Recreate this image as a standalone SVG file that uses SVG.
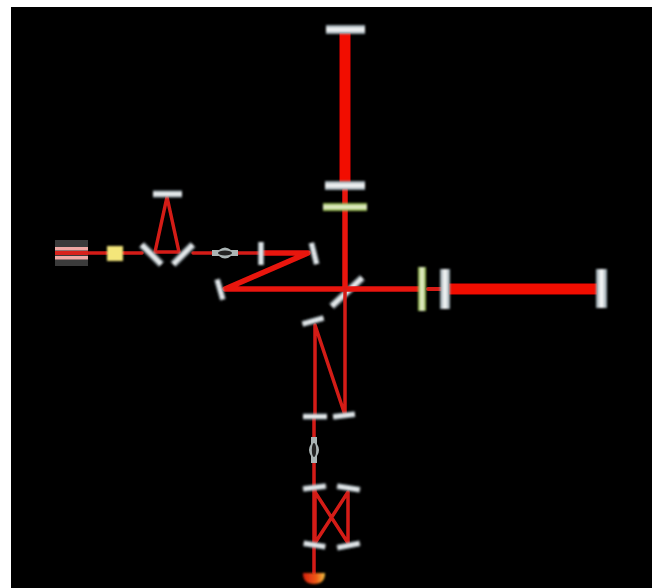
<svg xmlns="http://www.w3.org/2000/svg" width="655" height="588" viewBox="0 0 655 588">
<style>
.m{fill:url(#mg);filter:url(#b)}
.mh{fill:url(#mh);filter:url(#b)}
.g{fill:url(#gg);filter:url(#b)}
.gh{fill:url(#gh);filter:url(#b)}
.w{stroke:#e8140e;fill:none;stroke-linecap:round;stroke-linejoin:round}
.t1{stroke-width:3.500;stroke:#d41c18}
.t2{stroke-width:4;stroke:#d81c18}
.t3{stroke-width:5.500}
.t4{stroke-width:11;stroke-linecap:butt;stroke:#f20805}
</style>
<defs>
<filter id="b" x="-40%" y="-40%" width="180%" height="180%"><feGaussianBlur stdDeviation="0.8"/></filter>
<filter id="bl" filterUnits="userSpaceOnUse" x="0" y="0" width="655" height="588"><feGaussianBlur stdDeviation="0.7"/></filter>
<linearGradient id="mh" x1="0" y1="0" x2="1" y2="0"><stop offset="0" stop-color="#8b9ba3"/><stop offset=".5" stop-color="#ffffff"/><stop offset="1" stop-color="#8b9ba3"/></linearGradient>
<linearGradient id="mg" x1="0" y1="0" x2="0" y2="1"><stop offset="0" stop-color="#8b9ba3"/><stop offset=".5" stop-color="#ffffff"/><stop offset="1" stop-color="#8b9ba3"/></linearGradient>
<linearGradient id="gh" x1="0" y1="0" x2="1" y2="0"><stop offset="0" stop-color="#7fa82e"/><stop offset=".5" stop-color="#f4f8e0"/><stop offset="1" stop-color="#7fa82e"/></linearGradient>
<linearGradient id="gg" x1="0" y1="0" x2="0" y2="1"><stop offset="0" stop-color="#7fa82e"/><stop offset=".5" stop-color="#f4f8e0"/><stop offset="1" stop-color="#7fa82e"/></linearGradient>
<linearGradient id="pd" x1="0" y1="0" x2="1" y2="0"><stop offset="0" stop-color="#d8200c"/><stop offset=".6" stop-color="#ee5a18"/><stop offset="1" stop-color="#f2c040"/></linearGradient>
</defs>
<rect width="655" height="588" fill="#fff"/>
<rect x="11" y="7" width="641" height="581" fill="#000"/>
<g id="bs"><rect class="m" x="-21" y="-3.500" width="42" height="7" transform="translate(347 292) rotate(-43)"/></g>
<g id="connectors" filter="url(#bl)">
<path class="w t1" d="M88 253H107M123 253H142M193 253H212M238 253H260"/>
<path class="w t1" d="M155 252H179L167 197Z"/>
<path class="w t3" d="M262 253H308L225 289H420"/>
<path class="w t3" d="M345 207V289"/>
<path class="w t1" d="M345 289V415L315 325V416"/>
<path class="w t1" d="M314 416V573"/>
<path class="w t1" d="M315 490V543L348 492V543L315 492"/>
<path class="w t2" d="M428 289H442"/>
<path class="w t3" d="M345 190V204"/>
<path class="w t4" d="M345 33V183"/>
<path class="w t4" d="M449 289H597"/>
</g>
<g id="laser" filter="url(#bl)"><rect x="55" y="240" width="33" height="26" fill="#3a3a3a"/><rect x="55" y="247" width="33" height="3.500" fill="#f0a8a4"/><rect x="55" y="256" width="33" height="3.500" fill="#f0a8a4"/><rect x="55" y="251" width="33" height="4" fill="#d8201c"/></g>
<g id="isolator"><rect x="107" y="246" width="16" height="15" fill="#f4e67a" filter="url(#b)"/></g>
<g id="mc-left"><rect class="m" x="-14" y="-3.500" width="28" height="7" transform="translate(151.500 254.500) rotate(45)"/></g>
<g id="mc-right"><rect class="m" x="-14" y="-3.500" width="28" height="7" transform="translate(183 254.500) rotate(-45)"/></g>
<g id="mc-top"><rect class="m" x="153" y="190.500" width="29" height="7"/></g>
<g id="lens-h" filter="url(#bl)"><path d="M212 250H219Q225 245 231 250H238V256H231Q225 261 219 256H212Z" fill="#aab4b4"/><ellipse cx="225" cy="253" rx="7" ry="2.500" fill="#222"/></g>
<g id="m-input"><rect class="mh" x="258" y="242" width="6" height="23"/></g>
<g id="m-steer1"><rect class="mh" x="-3" y="-11" width="6" height="22" transform="translate(314 253.500) rotate(-14)"/></g>
<g id="m-steer2"><rect class="mh" x="-3" y="-10.500" width="6" height="21" transform="translate(220 289.500) rotate(-16)"/></g>
<g id="m-itm-n"><rect class="m" x="325" y="181" width="40" height="9"/></g>
<g id="cp-n"><rect class="g" x="323" y="203" width="44" height="8"/></g>
<g id="m-etm-n"><rect class="m" x="326" y="25" width="39" height="9"/></g>
<g id="cp-e"><rect class="gh" x="418" y="267" width="8" height="44"/></g>
<g id="m-itm-e"><rect class="mh" x="440" y="269" width="10" height="40"/></g>
<g id="m-etm-e"><rect class="mh" x="596" y="269" width="11" height="39"/></g>
<g id="m-as"><rect class="m" x="-11" y="-3" width="22" height="6" transform="translate(313 321) rotate(-16)"/></g>
<g id="m-om1"><rect class="m" x="303" y="413.500" width="24" height="6"/></g>
<g id="m-om2"><rect class="m" x="-11" y="-3" width="22" height="6" transform="translate(344 415.500) rotate(-7)"/></g>
<g id="lens-v" filter="url(#bl)"><path d="M311 437H317V444Q321 450 317 456V463H311V456Q307 450 311 444Z" fill="#aab4b4"/><ellipse cx="314" cy="450" rx="2.200" ry="7" fill="#222"/></g>
<g id="omc1"><rect class="m" x="-11.500" y="-3" width="23" height="6" transform="translate(314.500 487.500) rotate(-7)"/></g>
<g id="omc2"><rect class="m" x="-11.500" y="-3" width="23" height="6" transform="translate(348.500 488) rotate(9)"/></g>
<g id="omc3"><rect class="m" x="-11" y="-3" width="22" height="6" transform="translate(314.500 545) rotate(9)"/></g>
<g id="omc4"><rect class="m" x="-11.500" y="-3" width="23" height="6" transform="translate(348.500 545.500) rotate(-11)"/></g>
<g id="photodiode"><path d="M303 573H325Q325 584 314 584Q303 584 303 573Z" fill="url(#pd)" filter="url(#b)"/></g>
</svg>
